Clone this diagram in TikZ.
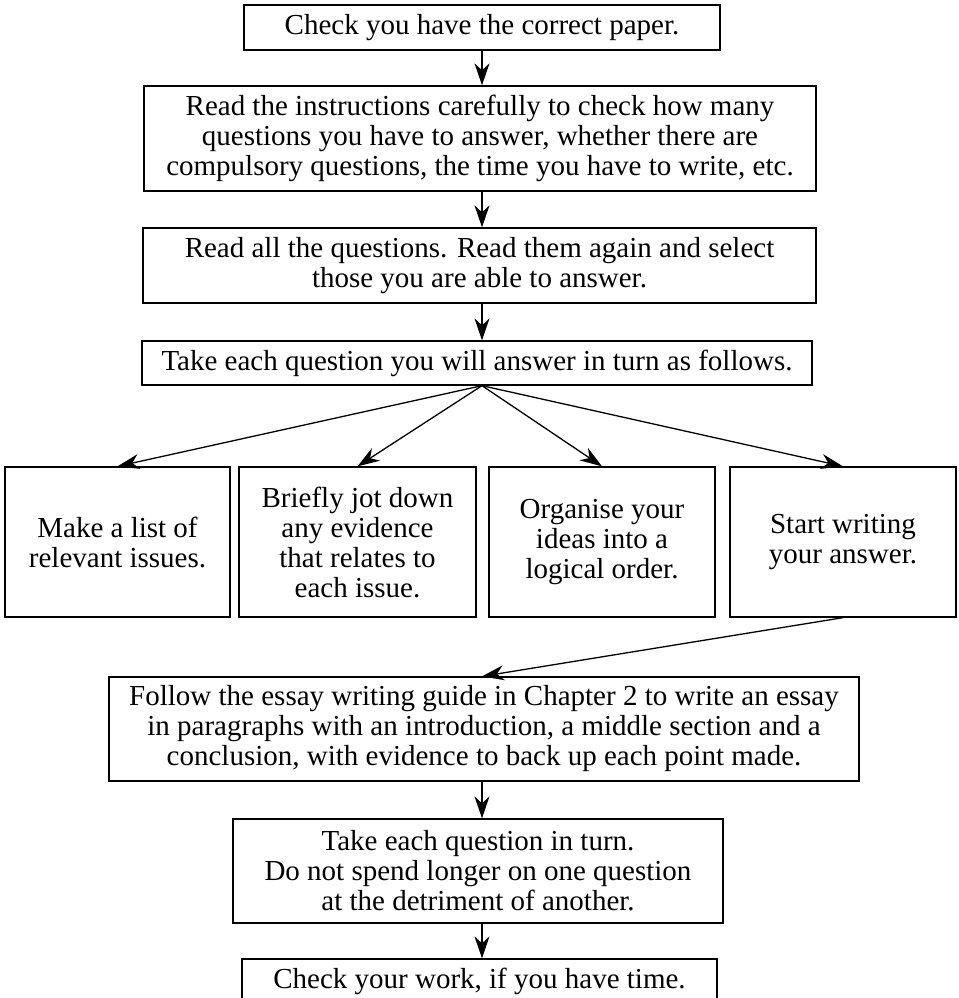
\documentclass[tikz,border=0pt]{standalone}
\usepackage{fontspec}
\setmainfont{Liberation Serif}
\usetikzlibrary{arrows.meta}

\tikzset{
  stepbox/.style={draw, line width=1.3pt, align=center, inner sep=0pt,
    minimum width=#1},
  flowtip/.tip={Stealth[length=22pt, width=15pt, inset=7pt]},
  flow/.style={line width=1.3pt, -flowtip},
}

\begin{document}
\begin{tikzpicture}[x=1pt,y=-1pt,
  every node/.style={font=\fontsize{29}{30}\selectfont}]

  \useasboundingbox (0,0) rectangle (958,998);

  % main column
  \node[stepbox=476pt, minimum height=45pt] (b1) at (482,27.5)
    {Check you have the correct paper.};
  \node[stepbox=672pt, minimum height=105pt] (b2) at (480,138.5)
    {Read the instructions carefully to check how many\\
     questions you have to answer, whether there are\\
     compulsory questions, the time you have to write, etc.};
  \node[stepbox=673pt, minimum height=75pt] (b3) at (479.5,265.5)
    {Read all the questions. Read them again and select\\
     those you are able to answer.};
  \node[stepbox=670pt, minimum height=44pt] (b4) at (477,363)
    {Take each question you will answer in turn as follows.};

  % row of four sub-steps
  \node[stepbox=225pt, minimum height=150pt] (sa) at (117.5,542)
    {Make a list of\\relevant issues.};
  \node[stepbox=237pt, minimum height=150pt] (sb) at (357.5,542)
    {Briefly jot down\\any evidence\\that relates to\\each issue.};
  \node[stepbox=226pt, minimum height=150pt] (sc) at (602,542)
    {Organise your\\ideas into a\\logical order.};
  \node[stepbox=226pt, minimum height=150pt] (sd) at (843,542)
    {Start writing\\your answer.};

  % lower column
  \node[stepbox=750pt, minimum height=104pt] (b5) at (484,729)
    {Follow the essay writing guide in Chapter 2 to write an essay\\
     in paragraphs with an introduction, a middle section and a\\
     conclusion, with evidence to back up each point made.};
  \node[stepbox=490pt, minimum height=104pt] (b6) at (478,871)
    {Take each question in turn.\\
     Do not spend longer on one question\\
     at the detriment of another.};
  \node[stepbox=475pt, minimum height=45pt] (b7) at (479.5,981.5)
    {Check your work, if you have time.};

  % connectors
  \coordinate (spine) at (482,0);
  \draw[flow] (b1.south -| spine) -- (b2.north -| spine);
  \draw[flow] (b2.south -| spine) -- (b3.north -| spine);
  \draw[flow] (b3.south -| spine) -- (b4.north -| spine);
  \coordinate (fan) at (b4.south -| spine);
  \draw[flow] (fan) -- (sa.north);
  \draw[flow] (fan) -- (sb.north);
  \draw[flow] (fan) -- (sc.north);
  \draw[flow] (fan) -- (sd.north);
  \draw[flow] (sd.south) -- (b5.north -| spine);
  \draw[flow] (b5.south -| spine) -- (b6.north -| spine);
  \draw[flow] (b6.south -| spine) -- (b7.north -| spine);
\end{tikzpicture}
\end{document}
